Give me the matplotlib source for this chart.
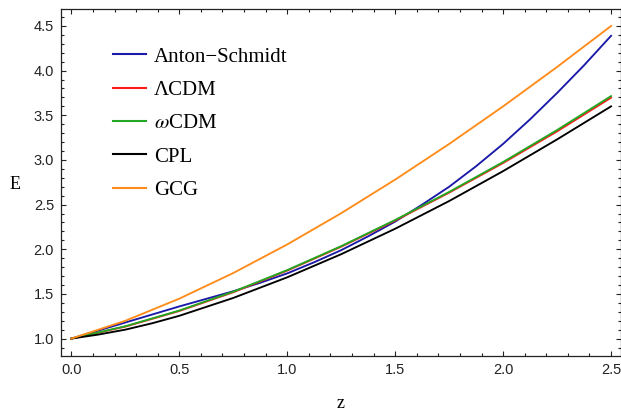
import matplotlib
matplotlib.use("Agg")
import matplotlib.pyplot as plt
from matplotlib.ticker import MultipleLocator

plt.rcParams['mathtext.fontset'] = 'stix'

# ---- data ----
z = [0.0, 0.25, 0.5, 0.75, 1.0, 1.25, 1.5, 1.75, 2.0, 2.25, 2.5]
z_as = [0.0, 0.125, 0.25, 0.375, 0.5, 0.625, 0.75, 0.875, 1.0, 1.125, 1.25,
        1.375, 1.5, 1.625, 1.75, 1.875, 2.0, 2.125, 2.25, 2.375, 2.5]
z_cpl = [0.0, 0.125, 0.25, 0.375, 0.5, 0.75, 1.0, 1.25, 1.5, 1.75, 2.0, 2.25, 2.5]
E_anton = [1.0, 1.09, 1.18, 1.27, 1.36, 1.445, 1.53, 1.625, 1.73, 1.855, 1.99,
           2.145, 2.31, 2.50, 2.70, 2.93, 3.18, 3.455, 3.75, 4.06, 4.39]
E_lcdm = [1.0, 1.134, 1.309, 1.519, 1.761, 2.029, 2.321, 2.634, 2.966, 3.320, 3.697]
E_wcdm = [1.0, 1.138, 1.314, 1.525, 1.767, 2.035, 2.328, 2.642, 2.977, 3.335, 3.715]
E_cpl = [1.0, 1.045, 1.10, 1.172, 1.255, 1.455, 1.686, 1.945, 2.23, 2.54, 2.875, 3.23, 3.60]
E_gcg = [1.0, 1.199, 1.447, 1.734, 2.054, 2.404, 2.780, 3.179, 3.600, 4.041, 4.50]

labels = ["Anton\u2212Schmidt", "\u039bCDM", r"$\omega$CDM", "CPL", "GCG"]
zs = [z_as, z, z, z_cpl, z]
series = [E_anton, E_lcdm, E_wcdm, E_cpl, E_gcg]
colors = ["#1a1aa8", "#ff1a1a", "#22a822", "#000000", "#ff8c1a"]

x_ticks = [0.0, 0.5, 1.0, 1.5, 2.0, 2.5]
y_ticks = [1.0, 1.5, 2.0, 2.5, 3.0, 3.5, 4.0, 4.5]

W, H = 621, 411
fig = plt.figure(figsize=(W / 100, H / 100), dpi=100)
ax = fig.add_axes([61 / W, 1 - 356 / H, 560 / W, 347 / H])

for xs, ys, c, lab in zip(zs, series, colors, labels):
    ax.plot(xs, ys, color=c, lw=1.35, label=lab, solid_joinstyle='round')

ax.set_xlim(-0.048, 2.546)
ax.set_ylim(0.805, 4.69)
ax.set_xticks(x_ticks)
ax.set_yticks(y_ticks)
ax.set_xticklabels([f"{v:.1f}" for v in x_ticks])
ax.set_yticklabels([f"{v:.1f}" for v in y_ticks])
ax.xaxis.set_minor_locator(MultipleLocator(0.1))
ax.yaxis.set_minor_locator(MultipleLocator(0.1))

frame_col = "#222222"
for s in ax.spines.values():
    s.set_color(frame_col)
    s.set_linewidth(0.9)
ax.tick_params(which='both', direction='in', top=True, right=True,
               color=frame_col, width=0.8)
ax.tick_params(which='major', length=3.8, pad=5)
ax.tick_params(which='minor', length=2.2)
for lab in ax.get_xticklabels() + ax.get_yticklabels():
    lab.set_fontfamily('Liberation Sans')
    lab.set_fontsize(10.5)
    lab.set_color('#222222')

fig.text(15 / W, 1 - 184 / H, "E", family='Liberation Serif', fontsize=13,
         ha='center', va='center')
fig.text(341 / W, 1 - 403 / H, "z", family='Liberation Serif', fontsize=13,
         ha='center', va='center')

leg = ax.legend(loc='upper left', bbox_to_anchor=(0.0929, 0.89),
                borderaxespad=0, borderpad=0, frameon=False,
                prop={'family': 'Liberation Serif', 'size': 15},
                handlelength=1.6, handletextpad=0.38, labelspacing=0.66)
for line in leg.get_lines():
    line.set_linewidth(1.5)

fig.savefig("out.png", dpi=100)
